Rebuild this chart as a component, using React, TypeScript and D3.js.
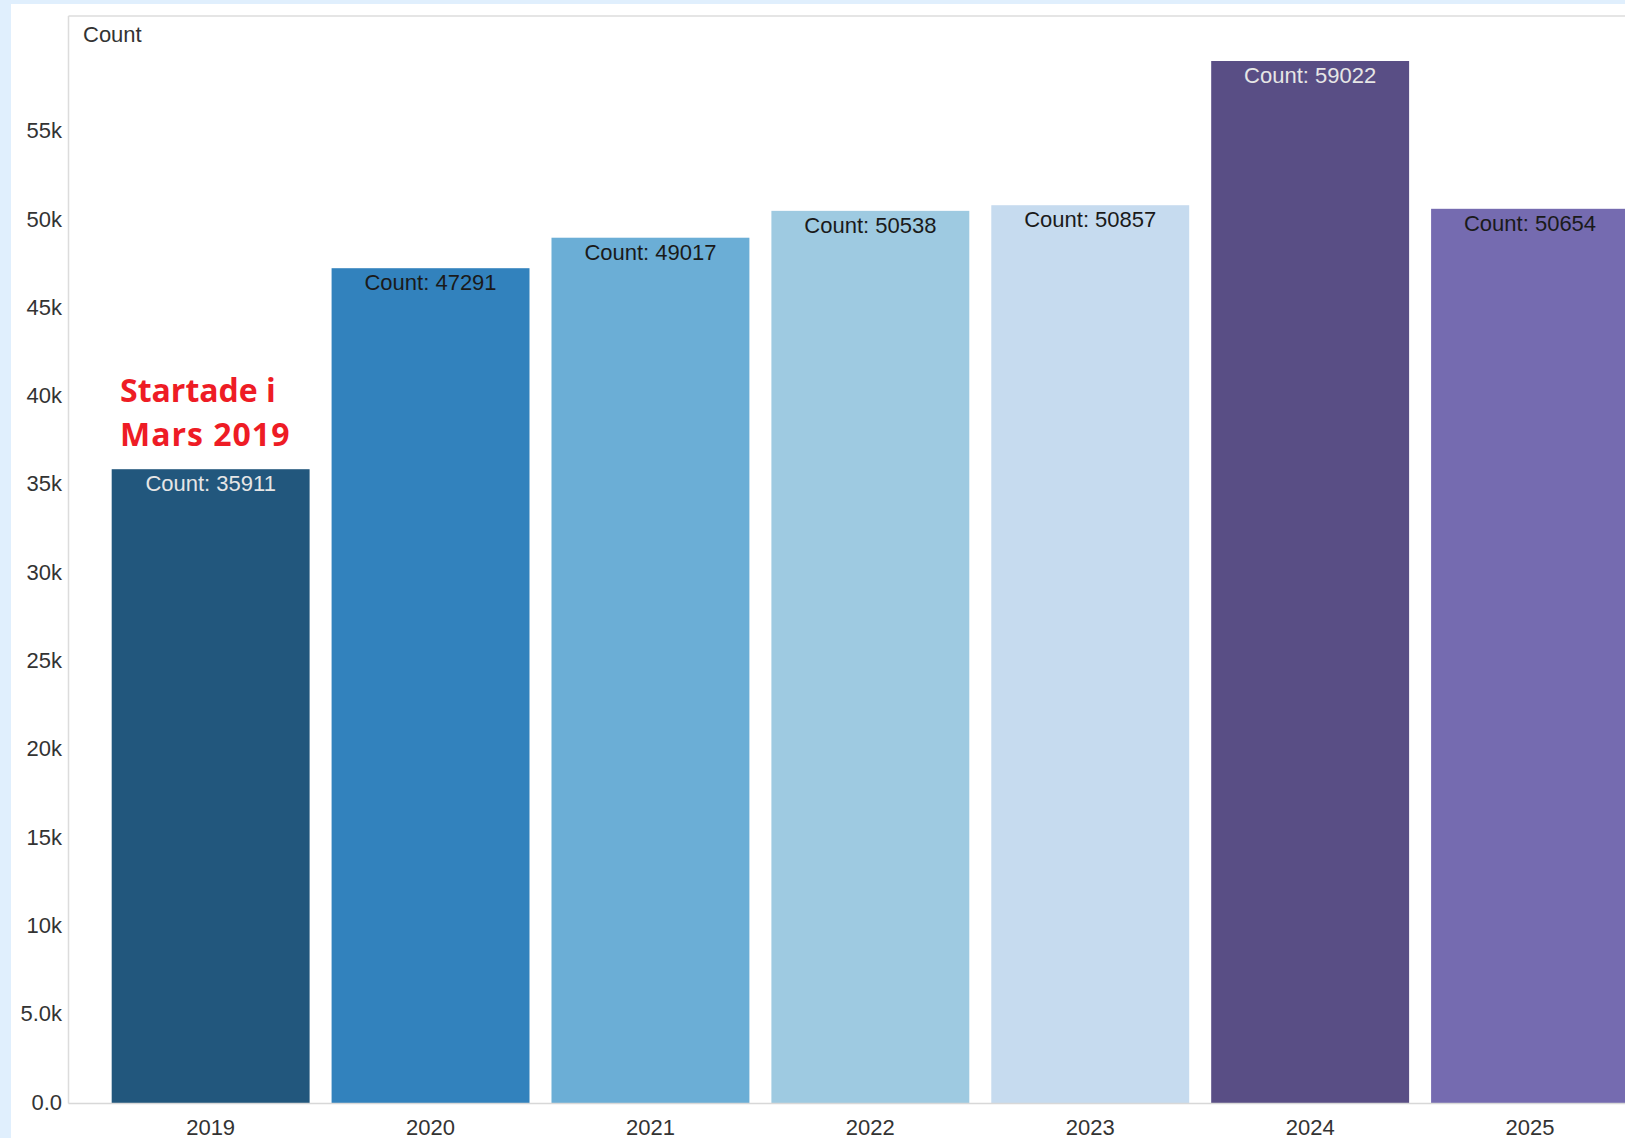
import React from "react";
import * as d3 from "d3";

const years = ["2019", "2020", "2021", "2022", "2023", "2024", "2025"];
const counts = [35911, 47291, 49017, 50538, 50857, 59022, 50654];
const barColors = ["#22577d", "#3282bd", "#6baed6", "#9ecae1", "#c6dbef", "#594e85", "#756bb0"];
const labelColors = ["#e6e6e6", "#1a1a1a", "#1a1a1a", "#1a1a1a", "#1a1a1a", "#e6e6e6", "#1a1a1a"];
const yTicks = [0, 5000, 10000, 15000, 20000, 25000, 30000, 35000, 40000, 45000, 50000, 55000];
const annotationLines = ["Startade i", "Mars 2019"];
const yTitle = "Count";

const W = 1625;
const H = 1138;
const font = "'Liberation Sans', Arial, sans-serif";

export default function App() {
  const plotLeft = 68.5;
  const plotTop = 16;
  const baseline = 1103.5;
  const x = d3.scaleBand<string>().domain(years).range([89.7, 1651]).padding(0.1);
  const y = d3.scaleLinear().domain([0, 59022]).range([baseline, 61]);
  const fmt = d3.format(".2s");

  return (
    <svg width={W} height={H} style={{ position: "absolute", left: 0, top: 0 }}>
      <rect x={0} y={0} width={W} height={H} fill="#e0effd" />
      <rect x={11} y={4} width={W - 11} height={H - 4} fill="#ffffff" />
      {/* frame */}
      <line x1={plotLeft} x2={W} y1={plotTop} y2={plotTop} stroke="#dcdcdc" strokeWidth={1.5} />
      <line x1={plotLeft} x2={plotLeft} y1={plotTop} y2={baseline} stroke="#dcdcdc" strokeWidth={1.5} />
      {/* bars */}
      {years.map((yr, i) => (
        <rect
          key={yr}
          x={x(yr)!}
          y={y(counts[i])}
          width={x.bandwidth()}
          height={baseline - y(counts[i])}
          fill={barColors[i]}
        />
      ))}
      <line x1={plotLeft} x2={W} y1={baseline} y2={baseline} stroke="#d8d8d8" strokeWidth={1.5} />
      {/* bar labels */}
      {years.map((yr, i) => (
        <text
          key={"l" + yr}
          x={x(yr)! + x.bandwidth() / 2}
          y={y(counts[i]) + 22}
          textAnchor="middle"
          fontFamily={font}
          fontSize={22}
          fill={labelColors[i]}
        >
          {"Count: " + counts[i]}
        </text>
      ))}
      {/* y axis labels */}
      {yTicks.map((t) => (
        <text
          key={"y" + t}
          x={62}
          y={y(t)}
          dy="0.28em"
          textAnchor="end"
          fontFamily={font}
          fontSize={22}
          fill="#333"
        >
          {fmt(t)}
        </text>
      ))}
      {/* x axis labels */}
      {years.map((yr) => (
        <text
          key={"x" + yr}
          x={x(yr)! + x.bandwidth() / 2}
          y={1134.5}
          textAnchor="middle"
          fontFamily={font}
          fontSize={22}
          fill="#333"
        >
          {yr}
        </text>
      ))}
      <text x={83} y={42} fontFamily={font} fontSize={22} fill="#333">
        {yTitle}
      </text>
      {/* annotation */}
      {annotationLines.map((ln, i) => (
        <text
          key={"a" + i}
          x={120}
          y={401.5 + i * 44}
          fontFamily="'Open Sans', sans-serif"
          fontWeight="bold"
          fontSize={32}
          letterSpacing={i === 1 ? 1 : 0}
          fill="#ee1c25"
        >
          {ln}
        </text>
      ))}
    </svg>
  );
}
